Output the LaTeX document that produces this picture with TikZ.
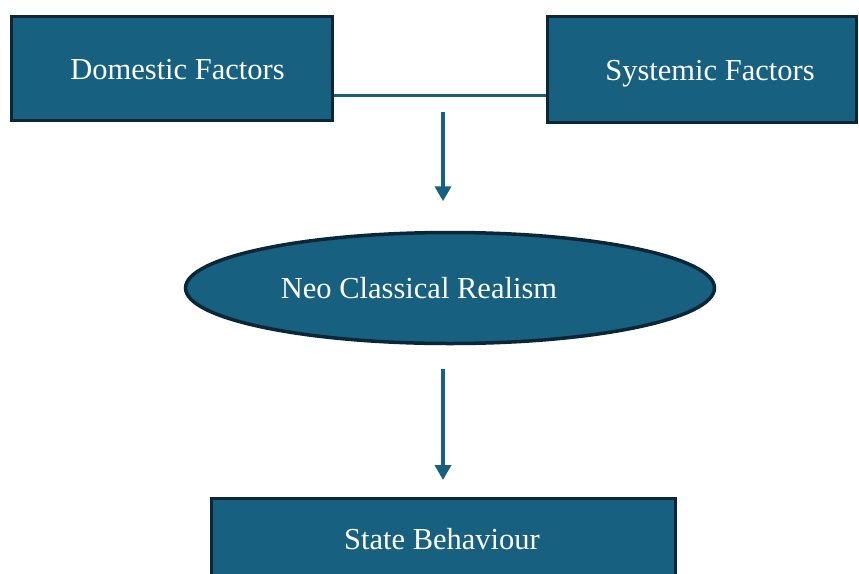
\documentclass[tikz,border=0pt]{standalone}
\usepackage{fontspec}
\setmainfont{Liberation Serif}
\usetikzlibrary{shapes.geometric,arrows.meta}
\definecolor{boxfill}{RGB}{23,96,128}
\definecolor{boxline}{RGB}{11,38,54}
\tikzset{
  factor/.style={draw=boxline, fill=boxfill, line width=3.5pt, rectangle, inner sep=0pt},
  oval/.style={draw=boxline, fill=boxfill, line width=3.5pt, ellipse, inner sep=0pt},
  lbl/.style={text=white, font=\fontsize{30.5}{36}\selectfont, inner sep=0pt, anchor=base},
  link/.style={draw=boxfill, line width=3pt},
  arr/.style={draw=boxfill, line width=4.5pt, -{Triangle[width=16pt,length=15pt]}}
}
\begin{document}
\begin{tikzpicture}[x=1pt,y=-1pt]
\clip (0,0) rectangle (859,573);
\fill[white] (0,0) rectangle (859,573);
\node[factor, minimum width=321pt, minimum height=104pt] (dom) at (172,68.5) {};
\node[lbl] (domt) at (177.5,79) {Domestic Factors};
\node[factor, minimum width=309pt, minimum height=106pt] (sys) at (702,69.5) {};
\node[lbl] (syst) at (710,80) {Systemic Factors};
\node[oval, minimum width=529pt, minimum height=111pt] (nlr) at (450,288) {};
\node[lbl] (nlrt) at (419,298) {Neo Classical Realism};
\node[factor, minimum width=464pt, minimum height=110pt, anchor=north] (sb) at (443.5,496.5) {};
\node[lbl] (sbt) at (442,549) {State Behaviour};
\coordinate (lk) at (443,95);
\coordinate (a1s) at (443,112);
\draw[link] (dom.east |- lk) -- (sys.west |- lk);
\draw[arr, shorten >=29.5pt] (a1s) -- (a1s |- nlr.north);
\draw[arr, shorten <=23.5pt, shorten >=16.5pt] (a1s |- nlr.south) -- (a1s |- sb.north);
\end{tikzpicture}
\end{document}
